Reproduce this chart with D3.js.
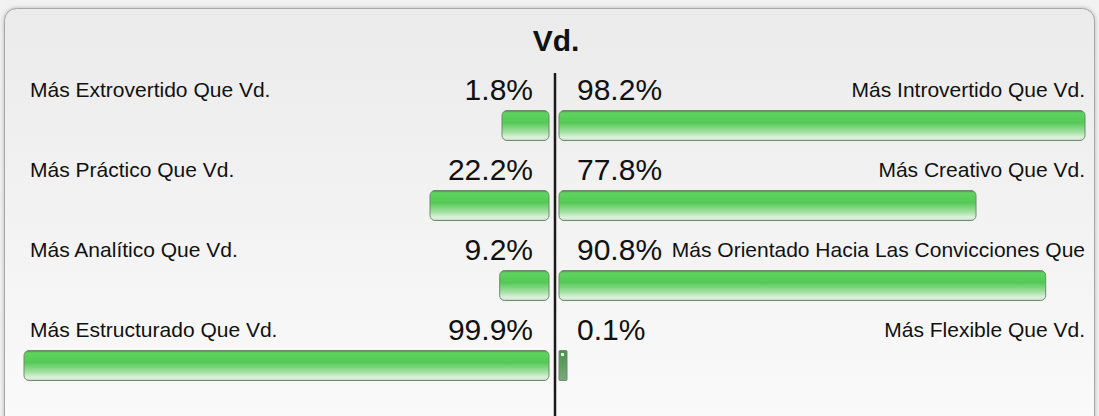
<!DOCTYPE html>
<html>
<head>
<meta charset="utf-8">
<script src="https://cdn.jsdelivr.net/npm/d3@7"></script>
<style>
  body { margin: 0; background: #f2f2f2; }
  svg { display: block; font-family: "Liberation Sans", Arial, sans-serif; }
</style>
</head>
<body>
<div id="chart"></div>
<script>
// chart data
const title = "Vd.";
const leftLabels = ["Más Extrovertido Que Vd.", "Más Práctico Que Vd.", "Más Analítico Que Vd.", "Más Estructurado Que Vd."];
const rightLabels = ["Más Introvertido Que Vd.", "Más Creativo Que Vd.", "Más Orientado Hacia Las Convicciones Que", "Más Flexible Que Vd."];
const leftValues = [1.8, 22.2, 9.2, 99.9];
const rightValues = [98.2, 77.8, 90.8, 0.1];

const width = 1099, height = 416;
const centerX = 554;
const leftEdge = 24, rightEdge = 1085;
const barH = 30, minBar = 47, stubW = 8;

const svg = d3.select("#chart").append("svg")
    .attr("width", width)
    .attr("height", height);

const defs = svg.append("defs");

// panel background gradient
const bg = defs.append("linearGradient")
    .attr("id", "panelBg")
    .attr("x1", "0%").attr("y1", "0%")
    .attr("x2", "0%").attr("y2", "100%");
bg.append("stop").attr("offset", "0%").attr("stop-color", "#ebebeb");
bg.append("stop").attr("offset", "100%").attr("stop-color", "#fbfbfb");

// glossy green bar gradient
const g = defs.append("linearGradient")
    .attr("id", "barGreen")
    .attr("x1", "0%").attr("y1", "0%")
    .attr("x2", "0%").attr("y2", "100%");
[["0%", "#3f8f3f"], ["8%", "#5fd35f"], ["40%", "#55c955"], ["70%", "#9fdf9f"], ["90%", "#dcf2dc"], ["100%", "#c9d9c9"]]
    .forEach(s => g.append("stop").attr("offset", s[0]).attr("stop-color", s[1]));

const g2 = defs.append("linearGradient")
    .attr("id", "barStub")
    .attr("x1", "0%").attr("y1", "0%")
    .attr("x2", "0%").attr("y2", "100%");
[["0%", "#4f8f4f"], ["50%", "#5f9f5f"], ["100%", "#7fa77f"]]
    .forEach(s => g2.append("stop").attr("offset", s[0]).attr("stop-color", s[1]));

const shadow = defs.append("filter").attr("id", "shadow")
    .attr("x", "-5%").attr("y", "-5%").attr("width", "110%").attr("height", "110%");
shadow.append("feDropShadow")
    .attr("dx", 0).attr("dy", 0).attr("stdDeviation", 2)
    .attr("flood-color", "#888").attr("flood-opacity", 0.6);

// panel
svg.append("rect")
    .attr("x", 4.5).attr("y", 8.5)
    .attr("width", 1090).attr("height", 440)
    .attr("rx", 12)
    .attr("fill", "url(#panelBg)")
    .attr("stroke", "#a8a8a8")
    .attr("filter", "url(#shadow)");

// title
svg.append("text")
    .attr("x", 556).attr("y", 51)
    .attr("text-anchor", "middle")
    .style("font-size", "30px")
    .style("font-weight", "bold")
    .attr("fill", "#111")
    .text(title);

// scales
const rows = d3.range(leftLabels.length);
const y = d3.scaleBand().domain(rows).range([70, 390]);
const w = d3.scaleLinear().domain([0, 100]).range([0, 536]);

function barWidth(v, max) {
    if (v < 1) return stubW;
    return Math.min(max, Math.max(minBar, w(v)));
}

const row = svg.selectAll("g.row")
    .data(rows)
    .enter().append("g")
    .attr("class", "row")
    .attr("transform", d => `translate(0, ${y(d) + 40})`);

// labels
row.append("text")
    .attr("x", 30).attr("y", -13)
    .style("font-size", "21px")
    .attr("fill", "#111")
    .text(d => leftLabels[d]);

row.append("text")
    .attr("x", rightEdge).attr("y", -13)
    .attr("text-anchor", "end")
    .style("font-size", "21px")
    .attr("fill", "#111")
    .text(d => rightLabels[d]);

// percentages
row.append("text")
    .attr("x", 533).attr("y", -10)
    .attr("text-anchor", "end")
    .style("font-size", "30px")
    .attr("fill", "#111")
    .text(d => leftValues[d] + "%");

row.append("text")
    .attr("x", 577).attr("y", -10)
    .style("font-size", "30px")
    .attr("fill", "#111")
    .text(d => rightValues[d] + "%");

// bars
row.append("rect")
    .attr("x", d => 549 - barWidth(leftValues[d], 549 - leftEdge))
    .attr("y", 0.5)
    .attr("width", d => barWidth(leftValues[d], 549 - leftEdge))
    .attr("height", barH)
    .attr("rx", d => leftValues[d] < 1 ? 1 : 5)
    .attr("fill", d => leftValues[d] < 1 ? "url(#barStub)" : "url(#barGreen)")
    .attr("stroke", "#6f8a6f")
    .attr("stroke-width", 1);

row.append("rect")
    .attr("x", 559)
    .attr("y", 0.5)
    .attr("width", d => barWidth(rightValues[d], rightEdge - 559))
    .attr("height", barH)
    .attr("rx", d => rightValues[d] < 1 ? 1 : 5)
    .attr("fill", d => rightValues[d] < 1 ? "url(#barStub)" : "url(#barGreen)")
    .attr("stroke", "#6f8a6f")
    .attr("stroke-width", 1);

// small highlight on tiny stubs
row.filter(d => rightValues[d] < 1).append("rect")
    .attr("x", 561).attr("y", 3)
    .attr("width", 3).attr("height", 3)
    .attr("fill", "#e8f4e8");

// center divider
svg.append("line")
    .attr("x1", centerX + 1).attr("x2", centerX + 1)
    .attr("y1", 73).attr("y2", height)
    .attr("stroke", "#1a1a1a")
    .attr("stroke-width", 2.5);
</script>
</body>
</html>
